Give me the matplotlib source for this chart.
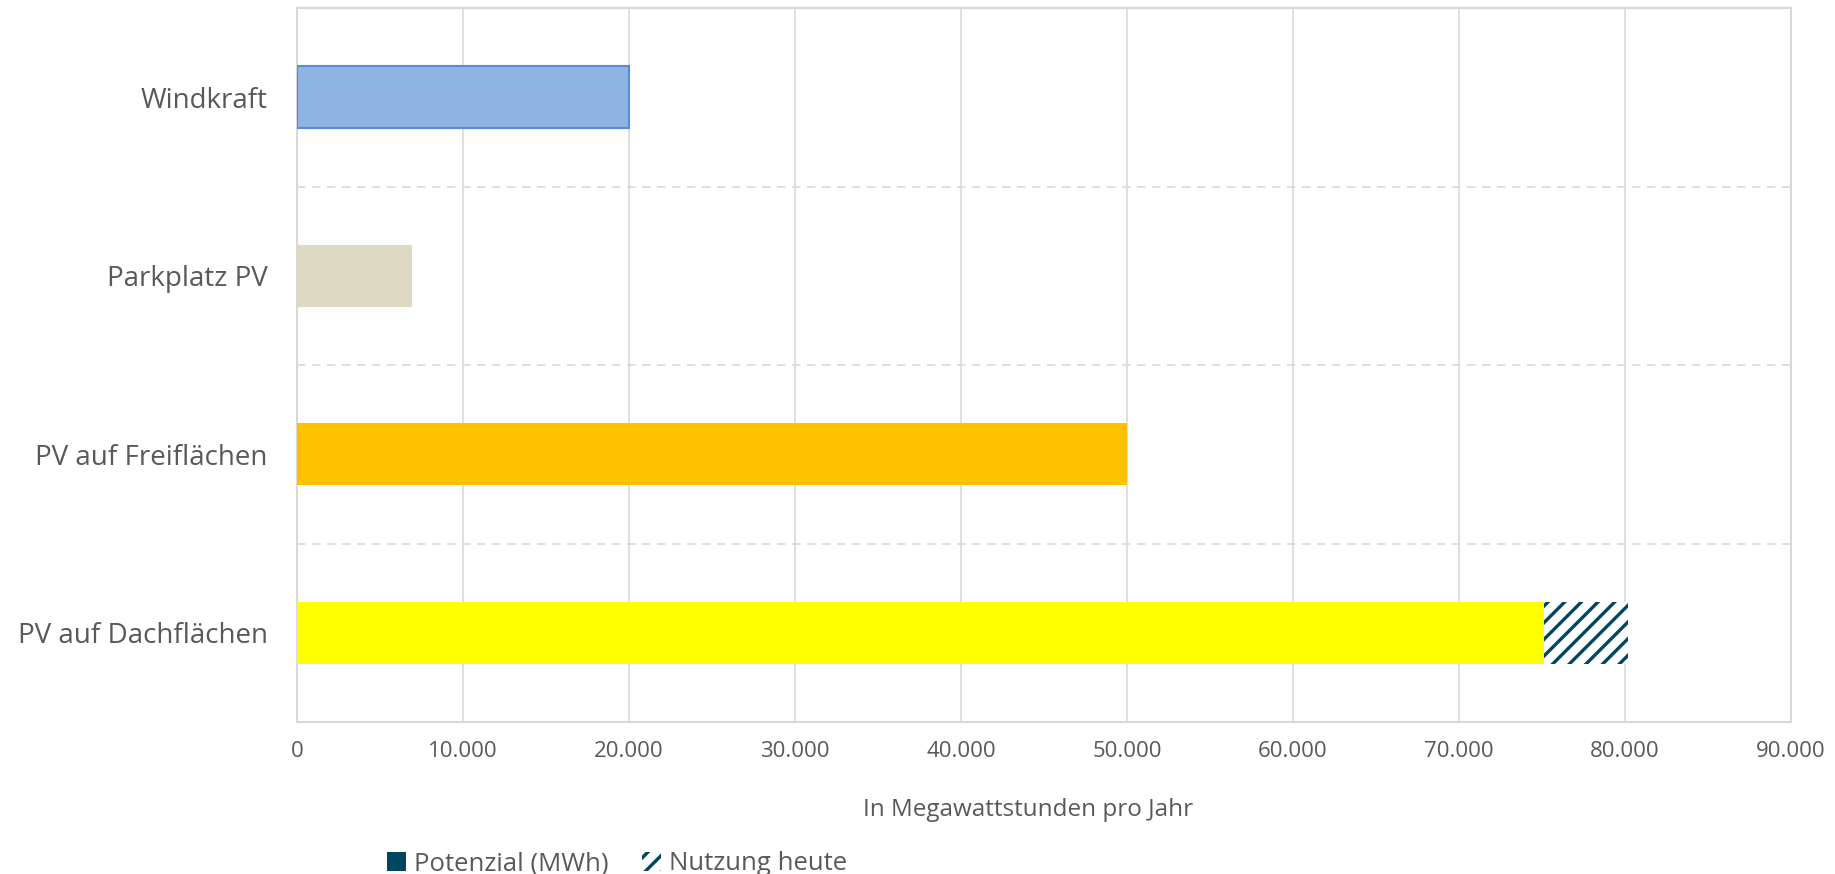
import matplotlib.pyplot as plt
from matplotlib.patches import Patch
from matplotlib.ticker import FuncFormatter

plt.rcParams['font.family'] = ['Open Sans', 'DejaVu Sans']
plt.rcParams['hatch.linewidth'] = 2.4

# data (bottom to top)
categories = ["PV auf Dachflächen", "PV auf Freiflächen", "Parkplatz PV", "Windkraft"]
potenzial = [75100, 50000, 6900, 20000]
nutzung_heute = [5100, 0, 0, 0]
bar_colors = ["#FFFF00", "#FFC000", "#DDD9C3", "#8EB4E3"]
edge_colors = ["none", "none", "none", "#558ED5"]
x_ticks = [0, 10000, 20000, 30000, 40000, 50000, 60000, 70000, 80000, 90000]

navy = "#00465F"
grid_col = "#D9D9D9"
text_col = "#595959"

fig = plt.figure(figsize=(18.35, 8.74), dpi=100)
ax = fig.add_axes([297/1835, 1-722/874, (1791-297)/1835, (722-8)/874])

ypos = list(range(len(categories)))
ax.barh(ypos, potenzial, height=0.35, color=bar_colors, edgecolor=edge_colors,
        linewidth=1.5, zorder=3)
ax.barh(ypos, nutzung_heute, left=potenzial, height=0.35, facecolor="white",
        edgecolor=navy, linewidth=0, hatch="//", zorder=3)

ax.set_xlim(0, 90000)
ax.set_ylim(-0.5, len(categories) - 0.5)
ax.set_xticks(x_ticks)
ax.xaxis.set_major_formatter(FuncFormatter(lambda v, p: f"{int(v):,}".replace(",", ".")))
ax.set_yticks(ypos)
ax.set_yticklabels(categories)

ax.grid(axis="x", color=grid_col, linewidth=1.2, zorder=0)
for b in [0.5, 1.5, 2.5]:
    ax.axhline(b, color=grid_col, linewidth=1.2, linestyle=(0, (5, 4)), zorder=0)

for s in ax.spines.values():
    s.set_color(grid_col)
    s.set_linewidth(1.5)

ax.tick_params(axis="x", length=0, pad=14, labelsize=16, labelcolor=text_col)
ax.tick_params(axis="y", length=0, pad=21, labelsize=20, labelcolor=text_col)
ax.set_xlabel("In Megawattstunden pro Jahr", fontsize=17.5, color=text_col, labelpad=25.5)
ax.xaxis.label.set_x(0.489)

handles = [Patch(facecolor=navy, edgecolor="none", label="Potenzial (MWh)"),
           Patch(facecolor="white", edgecolor=navy, linewidth=0, hatch="//", label="Nutzung heute")]
fig.legend(handles=handles, loc="center", bbox_to_anchor=(617/1835, 1-864/874), ncol=2,
           frameon=False, fontsize=18.5, labelcolor=text_col, handlelength=0.75,
           handleheight=0.75, handletextpad=0.3, columnspacing=1.3, borderpad=0)

fig.savefig("out.png", dpi=100)
